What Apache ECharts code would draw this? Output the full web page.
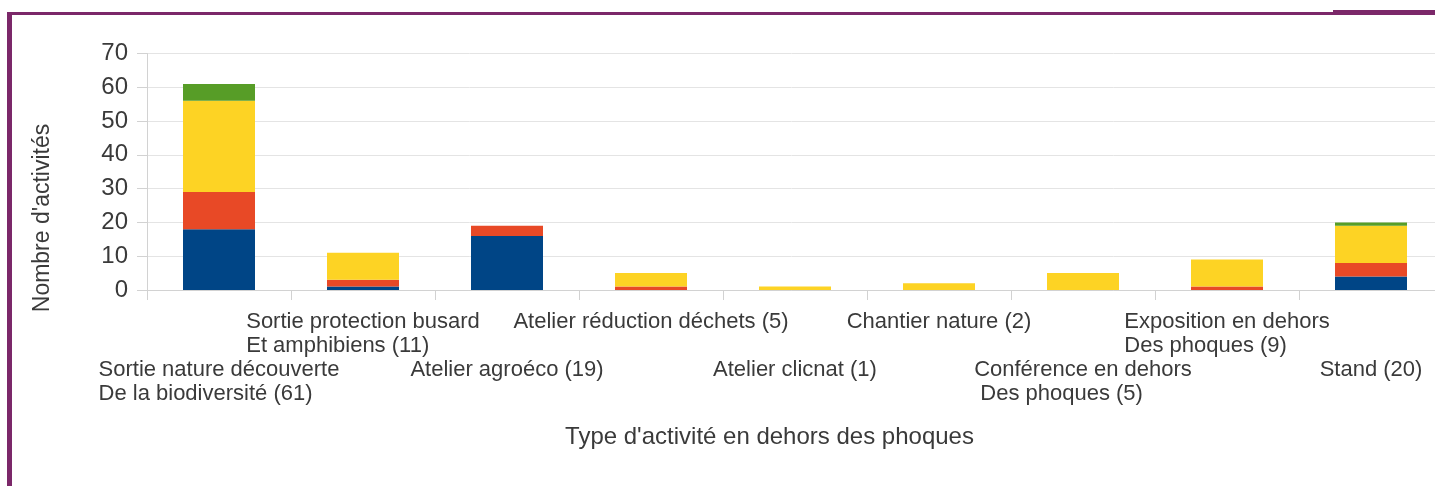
<!DOCTYPE html>
<html><head><meta charset="utf-8">
<script src="https://cdn.jsdelivr.net/npm/echarts@6/dist/echarts.min.js"></script>
<style>html,body{margin:0;padding:0;background:#fff}#c{width:1435px;height:486px}</style>
</head><body><div id="c"></div>
<script>
const categories = [
  "Sortie nature découverte\nDe la biodiversité (61)",
  "Sortie protection busard\nEt amphibiens (11)",
  "Atelier agroéco (19)",
  "Atelier réduction déchets (5)",
  "Atelier clicnat (1)",
  "Chantier nature (2)",
  "Conférence en dehors\n Des phoques (5)",
  "Exposition en dehors\nDes phoques (9)",
  "Stand (20)"
];
const blueValues   = [18, 1, 16, 0, 0, 0, 0, 0, 4];
const redValues    = [11, 2, 3, 1, 0, 0, 0, 1, 4];
const yellowValues = [27, 8, 0, 4, 1, 2, 5, 8, 11];
const greenValues  = [5, 0, 0, 0, 0, 0, 0, 0, 1];
const yMin = 0, yMax = 70, yStep = 10;
const xTitle = "Type d'activité en dehors des phoques";
const yTitle = "Nombre d'activités";

const FONT = "'Liberation Sans', Arial, sans-serif";
const TXT = '#3a3a3a';
const fmt = v => v.split('\n').map(l => '{a|' + l + '}').join('\n');
const rich = { a: { align: 'left', fontSize: 22, lineHeight: 24, color: TXT, fontFamily: FONT } };

const chart = echarts.init(document.getElementById('c'), null, { renderer: 'canvas' });
const mk = (name, data, color) => ({
  name, type: 'bar', stack: 'total', data, barWidth: '50%', xAxisIndex: 0,
  itemStyle: { color }, emphasis: { disabled: true }
});
chart.setOption({
  animation: false,
  textStyle: { fontFamily: FONT },
  grid: { left: 147, right: -8, top: 53.5, bottom: 196, containLabel: false, outerBoundsMode: 'none' },
  xAxis: [
    {
      type: 'category', data: categories, position: 'bottom',
      axisLine: { show: true, lineStyle: { color: '#d2d2d2', width: 1 } },
      axisTick: { show: true, interval: 0, length: 10, lineStyle: { color: '#d2d2d2' } },
      axisLabel: { interval: (i) => i % 2 === 1, margin: 20, verticalAlign: 'top', formatter: fmt, rich: rich },
      splitLine: { show: false }
    },
    {
      type: 'category', data: categories, position: 'bottom',
      axisLine: { show: false }, axisTick: { show: false },
      axisLabel: { interval: (i) => i % 2 === 0, margin: 68, verticalAlign: 'top', formatter: fmt, rich: rich },
      splitLine: { show: false }
    }
  ],
  yAxis: {
    type: 'value', min: yMin, max: yMax, interval: yStep,
    axisLine: { show: true, lineStyle: { color: '#d2d2d2' } },
    axisTick: { show: true, length: 10, lineStyle: { color: '#d2d2d2' } },
    axisLabel: { fontSize: 24, color: TXT, margin: 19, fontFamily: FONT },
    splitLine: { show: true, lineStyle: { color: '#e4e4e4' } }
  },
  series: [
    mk('Bleu', blueValues, '#004586'),
    mk('Rouge', redValues, '#e84926'),
    mk('Jaune', yellowValues, '#fdd324'),
    mk('Vert', greenValues, '#579d27')
  ],
  graphic: [
    { type: 'rect', shape: { x: 7, y: 12, width: 1326, height: 3 }, style: { fill: '#7b2869' }, silent: true },
    { type: 'rect', shape: { x: 1333, y: 10, width: 102, height: 5 }, style: { fill: '#7b2869' }, silent: true },
    { type: 'rect', shape: { x: 7, y: 12, width: 5, height: 474 }, style: { fill: '#7b2869' }, silent: true },
    { type: 'text', x: 769.5, y: 437, style: { text: xTitle, fontSize: 24, fontFamily: FONT, fill: TXT, align: 'center', verticalAlign: 'middle' }, silent: true },
    { type: 'text', x: 43, y: 218, rotation: Math.PI / 2, style: { text: yTitle, fontSize: 23, fontFamily: FONT, fill: TXT, align: 'center', verticalAlign: 'middle' }, silent: true }
  ]
});
</script>
</body></html>
